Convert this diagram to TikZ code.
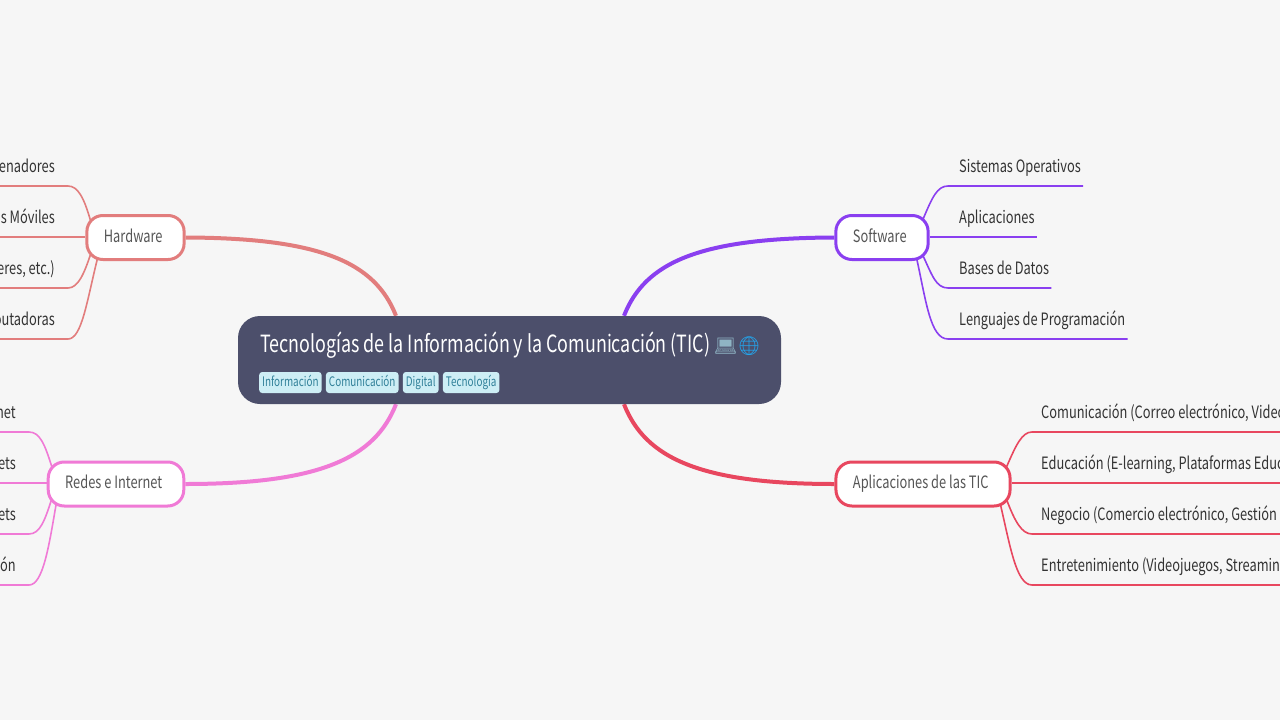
\documentclass[tikz,border=0pt]{standalone}
\usepackage{fontspec}
\usepackage{xcolor}
\usetikzlibrary{positioning,backgrounds}
\setmainfont[FakeStretch=0.755]{Noto Sans CJK SC}
\newfontfamily\emojifont{Noto Emoji}
\newcommand{\gap}[1]{\rule{#1}{0pt}}
\definecolor{pagecolor}{HTML}{F6F6F6}
\definecolor{rootcolor}{HTML}{4C4F6B}
\definecolor{tagcolor}{HTML}{CDEEF5}
\definecolor{tagtext}{HTML}{2F7F98}
\definecolor{topictext}{HTML}{555555}
\definecolor{leaftext}{HTML}{333333}
\definecolor{hardcolor}{HTML}{E27D7D}
\definecolor{softcolor}{HTML}{8A3FF0}
\definecolor{netcolor}{HTML}{F07AD6}
\definecolor{appcolor}{HTML}{E8475F}
\definecolor{laptopcolor}{HTML}{8FB4C4}
\definecolor{globecolor}{HTML}{22A7F0}
\tikzset{
  root/.style={fill=rootcolor,rounded corners=22pt,minimum width=543pt,minimum height=88pt,inner sep=0pt},
  tag/.style={fill=tagcolor,text=tagtext,rounded corners=3pt,font=\fontsize{13.1}{13.1}\selectfont,inner xsep=3pt,inner ysep=0pt,text height=11pt,text depth=4pt,minimum height=21pt},
  topic/.style={draw=#1,fill=white,text=topictext,line width=3pt,rounded corners=16pt,minimum height=44pt,inner xsep=17pt,text height=12pt,text depth=3pt,font=\fontsize{17}{17}\selectfont},
  leaf/.style={text=leaftext,inner sep=0pt,text height=12pt,text depth=13pt,font=\fontsize{17}{17}\selectfont},
  leafR/.style={leaf,anchor=south west},
  leafL/.style={leaf,anchor=south east},
  branch/.style={draw=#1,line width=4pt},
  twig/.style={draw=#1,line width=1.6pt},
  inUR/.style={xshift=-5pt,yshift=-5pt},
  inLR/.style={xshift=-5pt,yshift=5pt},
  inUL/.style={xshift=5pt,yshift=-5pt},
  inLL/.style={xshift=5pt,yshift=5pt}
}
\begin{document}
\begin{tikzpicture}[x=1pt,y=-1pt]
  \useasboundingbox (0,0) rectangle (1280,720);
  \clip (0,0) rectangle (1280,720);
  \coordinate (edgeL) at (0,0);
  \coordinate (edgeR) at (1280,0);

  \node [root] (tic) at (509.5,360) {};
  \node [anchor=base west,inner sep=0pt,text=white,font=\fontsize{23.7}{24}\selectfont] (title) at (260,352)
    {Tecnologías de la Información y la Comunicación (TIC)\hspace{3.5pt}{\emojifont\fontsize{18.5}{18.5}\selectfont\textcolor{laptopcolor}{💻}\textcolor{globecolor}{🌐}}};
  \node [tag,anchor=west] (info) at (259,382.5) {Información};
  \node [tag,right=4pt of info] (comu) {Comunicación};
  \node [tag,right=4pt of comu] (digi) {Digital};
  \node [tag,right=4pt of digi] (tecno) {Tecnología};

  \node [topic=hardcolor] (hardware) at (135.5,237.5) {Hardware\gap{4.5pt}};
  \node [topic=softcolor] (software) at (882,237.5) {Software\gap{4.5pt}};
  \node [topic=netcolor] (redes) at (116,484) {Redes e Internet\gap{4.5pt}};
  \node [topic=appcolor] (apps) at (923,484) {Aplicaciones de las TIC\gap{4.5pt}};

  \node [leafL] (hard1) at (68,186) {enadores\gap{13pt}};
  \node [leafL] (hard2) at (68,237) {s Móviles\gap{13pt}};
  \node [leafL] (hard3) at (68,288) {eres, etc.)\gap{13pt}};
  \node [leafL] (hard4) at (68,339) {outadoras\gap{13pt}};

  \node [leafR] (soft1) at (948,186) {\gap{11pt}Sistemas Operativos\gap{2pt}};
  \node [leafR] (soft2) at (948,237) {\gap{11pt}Aplicaciones\gap{2pt}};
  \node [leafR] (soft3) at (948,288) {\gap{11pt}Bases de Datos\gap{2pt}};
  \node [leafR] (soft4) at (948,339) {\gap{11pt}Lenguajes de Programación\gap{2pt}};

  \node [leafL] (net1) at (29,432) {net\gap{13pt}};
  \node [leafL] (net2) at (29,483) {ets\gap{13pt}};
  \node [leafL] (net3) at (29,534) {ets\gap{13pt}};
  \node [leafL] (net4) at (29,585) {ón\gap{13pt}};

  \node [leafR] (app1) at (1032,432) {\gap{9pt}Comunicación (Correo electrónico, Video};
  \node [leafR] (app2) at (1032,483) {\gap{9pt}Educación (E-learning, Plataformas Educ};
  \node [leafR] (app3) at (1032,534) {\gap{9pt}Negocio (Comercio electrónico, Gestión};
  \node [leafR] (app4) at (1032,585) {\gap{9pt}Entretenimiento (Videojuegos, Streamin};

  \begin{scope}[on background layer]
    \fill[pagecolor] (edgeL) rectangle (1280,720);

    \draw [branch=hardcolor] (hardware.east) .. controls (320,238) and (375,262) .. (tic.north west -| 396,316);
    \draw [branch=softcolor] (software.west) .. controls (700,238) and (645,262) .. (tic.north west -| 624,316);
    \draw [branch=netcolor] (redes.east) .. controls (320,484) and (375,458) .. (tic.south west -| 396,404);
    \draw [branch=appcolor] (apps.west) .. controls (700,484) and (645,458) .. (tic.south west -| 624,404);

    \draw [twig=hardcolor] ([inUL]hardware.156) .. controls (84,198) and (78,186) .. (hard1.south east) -- (edgeL |- hard1.south);
    \draw [twig=hardcolor] (hardware.west |- hard2.south east) -- (edgeL |- hard2.south);
    \draw [twig=hardcolor] ([inLL]hardware.204) .. controls (84,274) and (78,288) .. (hard3.south east) -- (edgeL |- hard3.south);
    \draw [twig=hardcolor] ([inLL]hardware.209) .. controls (87,300) and (82,339) .. (hard4.south east) -- (edgeL |- hard4.south);

    \draw [twig=softcolor] ([inUR]software.27) .. controls (932,198) and (937,186) .. (soft1.south west) -- (soft1.south east);
    \draw [twig=softcolor] (software.east |- soft2.south west) -- (soft2.south east);
    \draw [twig=softcolor] ([inLR]software.-27) .. controls (932,275) and (936,288) .. (soft3.south west) -- (soft3.south east);
    \draw [twig=softcolor] ([inLR]software.-31) .. controls (926,300) and (930,339) .. (soft4.south west) -- (soft4.south east);

    \draw [twig=netcolor] ([inUL]redes.162) .. controls (45,445) and (40,432) .. (net1.south east) -- (edgeL |- net1.south);
    \draw [twig=netcolor] (redes.west |- net2.south east) -- (edgeL |- net2.south);
    \draw [twig=netcolor] ([inLL]redes.196) .. controls (45,520) and (40,534) .. (net3.south east) -- (edgeL |- net3.south);
    \draw [twig=netcolor] ([inLL]redes.200) .. controls (49,546) and (43,585) .. (net4.south east) -- (edgeL |- net4.south);

    \draw [twig=appcolor] ([inUR]apps.14) .. controls (1016,445) and (1022,432) .. (app1.south west) -- (edgeR |- app1.south);
    \draw [twig=appcolor] (apps.east |- app2.south west) -- (edgeR |- app2.south);
    \draw [twig=appcolor] ([inLR]apps.-13) .. controls (1015,522) and (1022,534) .. (app3.south west) -- (edgeR |- app3.south);
    \draw [twig=appcolor] ([inLR]apps.-16) .. controls (1010,545) and (1016,585) .. (app4.south west) -- (edgeR |- app4.south);
  \end{scope}
\end{tikzpicture}
\end{document}
